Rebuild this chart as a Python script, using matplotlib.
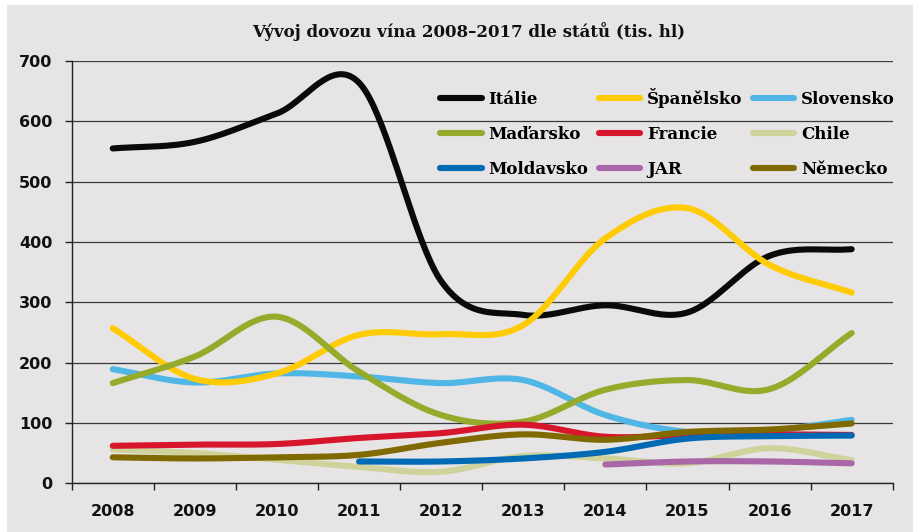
import numpy as np
import matplotlib
matplotlib.use("Agg")
import matplotlib.pyplot as plt
from matplotlib.patches import Rectangle
from matplotlib.lines import Line2D

years = ["2008", "2009", "2010", "2011", "2012", "2013", "2014", "2015", "2016", "2017"]
nan = np.nan

italie = [555, 566, 613, 664, 335, 279, 295, 283, 377, 388]
spanelsko = [257, 173, 182, 246, 247, 262, 406, 456, 362, 316]
slovensko = [189, 167, 182, 177, 166, 171, 113, 85, 87, 105]
madarsko = [166, 210, 276, 185, 113, 102, 155, 171, 156, 249]
francie = [62, 64, 65, 75, 83, 97, 77, 80, 81, 80]
chile = [56, 50, 39, 27, 19, 45, 41, 33, 58, 38]
moldavsko = [nan, nan, nan, 36, 36, 41, 52, 74, 78, 79]
jar = [nan, nan, nan, nan, nan, nan, 31, 36, 36, 33]
nemecko = [43, 41, 43, 47, 67, 81, 72, 85, 89, 99]

# legend order (row by row as in the picture)
series = [
    ("Itálie", italie, "#0a0a0a"),
    ("Španělsko", spanelsko, "#ffcb05"),
    ("Slovensko", slovensko, "#4fb6e6"),
    ("Maďarsko", madarsko, "#96ab2b"),
    ("Francie", francie, "#d7152b"),
    ("Chile", chile, "#cfd39b"),
    ("Moldavsko", moldavsko, "#006bb4"),
    ("JAR", jar, "#a967a8"),
    ("Německo", nemecko, "#806a00"),
]
draw_order = ["Chile", "Slovensko", "Itálie", "Španělsko", "Maďarsko",
              "Francie", "Moldavsko", "JAR", "Německo"]


def smooth(xs, ys, n=40):
    # catmull-rom style cubic hermite through the points
    m = np.gradient(ys)
    out_x, out_y = [], []
    t = np.linspace(0, 1, n)
    h00 = 2*t**3 - 3*t**2 + 1
    h10 = t**3 - 2*t**2 + t
    h01 = -2*t**3 + 3*t**2
    h11 = t**3 - t**2
    for i in range(len(xs) - 1):
        out_x.append(xs[i] + t)
        out_y.append(h00*ys[i] + h10*m[i] + h01*ys[i+1] + h11*m[i+1])
    return np.concatenate(out_x), np.concatenate(out_y)


bg = "#e6e4e5"
fig = plt.figure(figsize=(9.13, 5.32), dpi=100)
fig.patch.set_facecolor("white")
fig.patches.append(Rectangle((7/913, 0), 1, 1 - 5/532, transform=fig.transFigure,
                             facecolor=bg, edgecolor="none", zorder=-10))

ax = fig.add_axes([71.7/913, 1 - 483.2/532, 821/913, (483.2 - 61)/532])
ax.set_facecolor("none")

x = np.arange(len(years))
handles = {}
for k, (name, vals, col) in enumerate(series):
    vals = np.array(vals, dtype=float)
    ok = ~np.isnan(vals)
    sx, sy = smooth(x[ok].astype(float), vals[ok])
    z = 3 + draw_order.index(name)
    ax.plot(sx, sy, color=col, lw=4.4, solid_capstyle="round", zorder=z)
    handles[name] = Line2D([], [], color=col, lw=4.4, solid_capstyle="round")

ax.set_xlim(-0.5, len(years) - 0.5)
ax.set_ylim(0, 700)
ax.set_yticks(np.arange(0, 701, 100))
ax.set_xticks(np.arange(-0.5, len(years), 1))
ax.set_xticklabels([])
ax.set_xticks(x, minor=True)
ax.set_xticklabels(years, minor=True)
ax.tick_params(axis="x", which="major", length=5, width=1, color="#222222")
ax.tick_params(axis="x", which="minor", length=0, pad=15)
ax.tick_params(axis="y", length=5, width=1, color="#222222", pad=9)
for lab in ax.get_xticklabels(minor=True) + ax.get_yticklabels():
    lab.set_fontsize(11.5)
    lab.set_fontweight("bold")
    lab.set_color("#111111")

ax.yaxis.grid(True, color="#3a3a3a", lw=0.9, zorder=1)
ax.set_axisbelow(True)
for s in ["top", "right"]:
    ax.spines[s].set_visible(False)
for s in ["left", "bottom"]:
    ax.spines[s].set_color("#222222")
    ax.spines[s].set_linewidth(1)

names = [s[0] for s in series]
order = [0, 3, 6, 1, 4, 7, 2, 5, 8]
fig.legend([handles[names[i]] for i in order], [names[i] for i in order],
           ncol=3, frameon=False, loc="upper left",
           bbox_to_anchor=(440/913, 1 - 88/532), borderaxespad=0, borderpad=0,
           prop={"family": "DejaVu Serif", "weight": "bold", "size": 12},
           handlelength=2.5, handletextpad=0.42, columnspacing=0.6,
           labelspacing=1.08)

fig.text(469/913, 1 - 32/532, "Vývoj dovozu vína 2008–2017 dle států (tis. hl)",
         ha="center", va="center", fontsize=12, fontweight="bold",
         family="DejaVu Serif", color="#111111")

fig.savefig("out.png", dpi=100, facecolor=fig.get_facecolor())
